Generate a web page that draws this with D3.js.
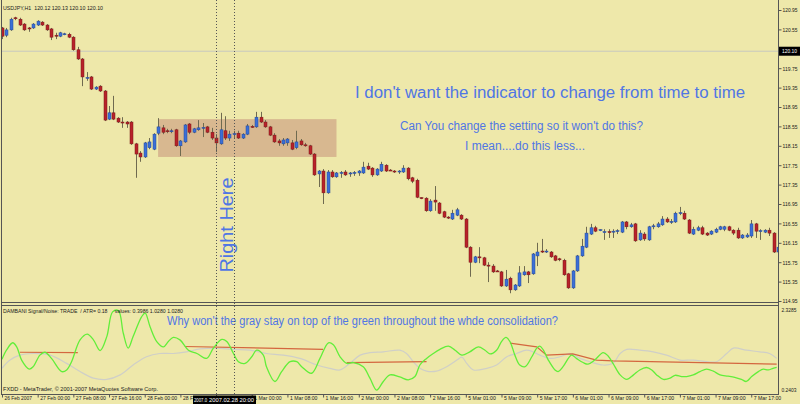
<!DOCTYPE html>
<html><head><meta charset="utf-8">
<script src="https://cdn.jsdelivr.net/npm/d3@7"></script>
<style>body{margin:0;background:#eee8aa;} svg{display:block;}</style>
</head><body><svg id="c" width="800" height="404"></svg>
<script>
// ---------- data ----------
const headerText = "USDJPY,H1  120.12 120.13 120.10 120.10";
const indicatorText = "DAMBANI Signal/Noise: TRADE  / ATR= 0.18     values: 0.3986 1.0280 1.0280";
const footerText = "FXDD - MetaTrader, \u00a9 2001-2007 MetaQuotes Software Corp.";

const open = [120.58,120.43,120.54,120.79,120.76,120.66,120.58,120.58,120.64,120.70,
120.64,120.56,120.43,120.41,120.45,120.45,120.39,120.13,119.94,119.55,
119.57,119.32,119.38,119.28,118.70,118.83,118.72,118.64,118.64,118.64,
118.19,118.00,117.92,118.11,118.08,118.41,118.52,118.46,118.45,118.48,
118.15,118.23,118.60,118.43,118.48,118.52,118.54,118.43,118.31,118.19,
118.46,118.31,118.39,118.41,118.31,118.39,118.55,118.54,118.74,118.64,
118.54,118.37,118.25,118.19,118.21,118.21,118.11,118.25,118.17,118.15,
117.98,117.57,117.63,117.18,117.61,117.51,117.59,117.61,117.58,117.59,
117.59,117.59,117.73,117.69,117.55,117.63,117.75,117.65,117.63,117.62,
117.61,117.69,117.49,117.44,117.08,117.07,116.81,117.03,116.97,116.79,
116.68,116.64,116.72,116.72,116.64,116.06,115.75,115.86,115.84,115.69,
115.67,115.57,115.55,115.26,115.42,115.18,115.26,115.49,115.55,115.51,
115.88,115.98,115.97,115.96,115.88,115.82,115.79,115.51,115.22,115.57,
115.88,116.06,116.33,116.46,116.41,116.37,116.38,116.37,116.39,116.37,
116.58,116.48,116.54,116.21,116.33,116.21,116.48,116.48,116.52,116.64,
116.58,116.58,116.76,116.76,116.62,116.33,116.41,116.46,116.35,116.33,
116.37,116.43,116.43,116.48,116.41,116.41,116.25,116.27,116.29,116.54,
116.39,116.37,116.41,116.35,115.96];
const high = [120.60,120.58,120.79,120.81,120.79,120.68,120.60,120.68,120.74,120.72,
120.66,120.58,120.48,120.50,120.48,120.48,120.41,120.19,119.96,119.67,
119.59,119.38,119.40,119.30,118.97,119.18,118.74,118.74,118.66,118.66,
118.21,118.04,118.23,118.31,118.41,118.72,118.58,118.50,118.50,118.50,
118.27,118.60,118.62,118.52,118.68,118.62,118.56,118.52,118.39,118.83,
118.76,118.46,118.46,118.46,118.41,118.60,118.58,118.85,118.85,118.68,
118.56,118.41,118.29,118.31,118.31,118.27,118.46,118.29,118.21,118.17,
118.00,117.65,117.67,117.65,117.65,117.61,117.63,117.65,117.61,117.63,
117.65,117.82,117.80,117.71,117.69,117.82,117.77,117.67,117.65,117.65,
117.75,117.71,117.51,117.47,117.09,117.09,117.05,117.32,116.99,116.81,
116.70,116.83,116.87,116.74,116.66,116.08,115.88,116.06,115.86,115.75,
115.71,115.59,115.57,115.59,115.45,115.30,115.67,115.67,115.57,115.94,
116.15,116.23,116.02,115.98,115.90,115.84,115.82,115.53,115.59,115.90,
116.23,116.48,116.54,116.50,116.43,116.43,116.43,116.43,116.43,116.60,
116.60,116.56,116.56,116.41,116.37,116.50,116.54,116.58,116.70,116.68,
116.64,116.79,116.89,116.81,116.64,116.48,116.50,116.50,116.37,116.41,
116.46,116.50,116.50,116.50,116.43,116.46,116.33,116.35,116.62,116.56,
116.43,116.43,116.46,116.37,116.08];
const low = [120.35,120.39,120.52,120.74,120.62,120.52,120.50,120.56,120.62,120.62,
120.52,120.33,120.35,120.39,120.43,120.37,120.11,119.92,119.38,119.49,
119.30,119.30,119.26,118.66,118.68,118.68,118.62,118.52,118.52,118.17,
117.49,117.82,117.90,118.08,118.06,118.37,118.39,118.41,118.41,118.13,
117.94,118.21,118.39,118.41,118.46,118.33,118.41,118.27,118.02,118.17,
118.27,118.25,118.29,118.29,118.29,118.37,118.52,118.52,118.62,118.52,
118.35,118.21,118.15,118.15,118.15,118.06,118.08,118.15,118.13,117.96,
117.53,117.30,116.95,117.16,117.49,117.49,117.49,117.53,117.51,117.53,
117.53,117.57,117.65,117.51,117.53,117.61,117.61,117.63,117.59,117.57,
117.59,117.44,117.38,117.07,117.05,116.79,116.79,116.81,116.74,116.66,
116.64,116.62,116.70,116.62,116.04,115.45,115.73,115.73,115.67,115.34,
115.53,115.55,115.24,115.24,115.11,115.16,115.24,115.47,115.32,115.49,
115.67,115.94,115.94,115.84,115.77,115.77,115.47,115.20,115.20,115.55,
115.86,116.04,116.31,116.37,116.39,116.21,116.25,116.25,116.33,116.35,
116.43,116.46,116.17,116.19,116.19,116.19,116.43,116.46,116.50,116.56,
116.54,116.56,116.72,116.62,116.33,116.31,116.39,116.31,116.29,116.31,
116.35,116.41,116.39,116.39,116.31,116.23,116.23,116.25,116.25,116.25,
116.21,116.35,116.29,115.94,115.94];
const close = [120.41,120.54,120.76,120.78,120.64,120.54,120.57,120.66,120.72,120.64,
120.54,120.39,120.42,120.48,120.46,120.39,120.13,119.94,119.57,119.56,
119.32,119.36,119.28,118.68,118.83,118.70,118.64,118.63,118.60,118.19,
117.98,117.92,118.21,118.23,118.39,118.54,118.43,118.45,118.46,118.15,
118.25,118.58,118.43,118.50,118.52,118.53,118.43,118.31,118.21,118.48,
118.31,118.39,118.40,118.31,118.39,118.56,118.54,118.74,118.64,118.54,
118.37,118.23,118.21,118.27,118.29,118.08,118.23,118.17,118.16,117.98,
117.55,117.63,117.18,117.61,117.51,117.59,117.60,117.55,117.59,117.60,
117.63,117.71,117.67,117.55,117.67,117.77,117.63,117.64,117.62,117.63,
117.69,117.47,117.42,117.09,117.07,116.81,117.01,116.99,116.76,116.68,
116.67,116.76,116.83,116.64,116.06,115.75,115.86,115.85,115.69,115.68,
115.55,115.56,115.26,115.40,115.18,115.28,115.53,115.55,115.49,115.92,
115.96,115.97,115.98,115.86,115.79,115.81,115.49,115.22,115.57,115.88,
116.08,116.35,116.46,116.39,116.42,116.38,116.37,116.39,116.40,116.58,
116.48,116.52,116.19,116.35,116.23,116.48,116.50,116.54,116.64,116.58,
116.59,116.76,116.77,116.64,116.35,116.43,116.46,116.33,116.31,116.39,
116.43,116.48,116.48,116.41,116.35,116.25,116.31,116.31,116.54,116.39,
116.40,116.41,116.35,115.96,116.06];

const priceTicks = [120.95,120.55,120.15,119.75,119.35,118.95,118.55,118.15,117.75,117.35,116.95,116.55,116.15,115.75,115.35,114.95];
const bidPrice = 120.10;
const timeTickIdx = [0,8,16,24,32,40,48,56,64,72,80,88,96,104,112,120,128,136,144,152,160,168];
const timeTickLabels = ["26 Feb 2007","27 Feb 00:00","27 Feb 08:00","27 Feb 16:00","28 Feb 00:00","28 Feb 08:00","28 Feb 16:00",
  "1 Mar 00:00","1 Mar 08:00","1 Mar 16:00","2 Mar 00:00","2 Mar 08:00","2 Mar 16:00","5 Mar 01:00","5 Mar 09:00","5 Mar 17:00",
  "6 Mar 01:00","6 Mar 09:00","6 Mar 17:00","7 Mar 01:00","7 Mar 09:00","7 Mar 17:00"];
const cursorLabels = ["2007.0", "2007.02.28 20:00"];
const markIdx = [48, 52];
const zoneIdx = [35, 75];
const zonePrice = [118.70, 117.92];
const indRange = [0.2403, 2.3285];

const greenIdx = [0,1,2.4,3.3,4.4,6.1,7,8.5,9.6,11.1,13.4,14.5,15.6,17.5,19.1,20.5,22,23.5,24.8,26.1,27.2,28.3,29.4,31.3,32.1,33.2,34.7,36.2,37.3,38.4,39.9,41.8,43.7,45.9,47.4,49.3,50.4,51.9,53,54.5,56,57.1,58.6,59.3,61.2,62.7,64.6,66.1,67.2,69.4,71.3,73.2,74.3,75.8,77.3,78.8,81,82.5,84,85.5,87,89.2,91.1,92.6,93.7,95.2,96.7,98.2,100.1,101.6,103.1,104.9,106.8,108.3,109.4,110.9,112,113,113.9,115,116.1,117.3,118.8,119.9,120.6,121.4,122.5,124,124.7,125.8,127.7,128.8,130.3,131.4,132.9,134.8,135.9,137,138.6,140.1,141.6,143,144.5,145.7,146.8,148.3,149.8,150.9,152.4,153.5,155,156.5,158,159.5,161,162.8,164.3,165.8,166.9,168.1,169.6,170.7,171.8,172.9,173.7];
const greenVal = [1.06,1.28,1.46,1.36,1.04,0.82,0.88,1.16,1.23,1.08,0.76,0.80,1.00,1.53,1.67,1.53,1.27,1.61,2.21,2.24,1.69,1.33,1.61,2.09,2.18,1.85,1.49,1.36,1.49,1.59,1.53,1.28,1.20,1.08,1.33,1.54,1.49,1.20,1.00,0.96,1.12,1.28,1.16,0.88,0.52,0.76,1.00,1.00,0.88,0.72,1.08,1.46,1.41,1.12,0.96,0.98,0.88,0.60,0.31,0.52,0.68,0.63,0.56,0.64,0.92,1.08,1.20,1.30,1.38,1.28,1.16,1.24,1.36,1.28,1.19,1.28,1.49,1.59,1.49,1.16,0.92,0.88,1.12,1.33,1.38,1.28,1.04,0.80,0.76,0.88,1.16,1.08,0.98,0.94,1.04,1.22,1.14,0.96,0.68,0.57,0.68,0.80,0.86,0.80,0.68,0.57,0.60,0.67,0.64,0.64,0.68,0.76,0.82,0.77,0.68,0.65,0.62,0.57,0.52,0.64,0.76,0.82,0.80,0.84,0.86];

const grayIdx = [0,1.8,4,7,10.8,14.5,17.5,20.5,23.5,26.5,29.4,32.4,35.4,38.4,41.4,44.4,48.1,51.9,55.6,59.3,63.1,66.8,70.6,73.5,75.8,78,80.3,82.5,85.5,89.2,90.7,92.2,93.7,95.2,97.4,99.7,102,103.1,104.2,105.7,108.7,110.9,113.2,115.4,117.6,119.1,120.6,122.9,125.1,127.4,129.6,131.8,134.8,137,138.6,140.1,143,146,149,152,155,158,160.2,162.5,164,166.9,169.9,172.1,173.7];
const grayVal = [0.84,1.04,1.16,1.20,1.16,0.96,0.76,0.60,0.57,0.68,0.92,1.12,1.20,1.20,1.24,1.31,1.33,1.30,1.28,1.20,1.16,1.08,0.92,0.84,0.80,0.96,1.16,1.22,1.24,1.28,1.20,1.00,0.84,0.77,0.77,0.88,1.04,1.11,0.96,0.80,0.84,0.92,1.12,1.20,1.28,1.24,1.16,1.08,1.12,1.20,1.08,1.00,0.92,0.96,1.20,1.30,1.28,1.24,1.16,1.04,1.04,1.00,1.00,1.20,1.33,1.28,1.24,1.20,1.08];

const redIdx = [4,17,null,41,72,null,77.3,95.2,null,113.9,119.9,122.1,128,133.3,137,173.7];
const redVal = [1.23,1.22,null,1.37,1.30,null,0.98,1.00,null,1.45,1.36,1.16,1.19,1.04,1.02,0.94];

// ---------- layout ----------
const svg = d3.select("#c");
const BG = "#eee8aa";
const x = d3.scaleLinear().domain([0, 174]).range([2, 778]);
const y = d3.scaleLinear().domain([114.95, 120.95]).range([301, 10]);
const yi = d3.scaleLinear().domain(indRange).range([393, 307]);
const font = "'Liberation Sans', Arial, sans-serif";
const CW = 2.5; // approx. px per character of the small MetaTrader labels
const small = sel => sel.attr("font-family", font).attr("font-size", 6).attr("fill", "#1a1a1a")
  .attr("lengthAdjust", "spacingAndGlyphs").attr("textLength", function () { return this.textContent.length * CW; });

svg.append("rect").attr("width", 800).attr("height", 404).attr("fill", BG);

const defs = svg.append("defs");
defs.append("clipPath").attr("id", "cm").append("rect").attr("x", 2).attr("y", 0).attr("width", 776).attr("height", 302);
defs.append("clipPath").attr("id", "ci").append("rect").attr("x", 2).attr("y", 306).attr("width", 776).attr("height", 88);

const main = svg.append("g").attr("clip-path", "url(#cm)");
main.append("rect")
  .attr("x", x(zoneIdx[0])).attr("width", x(zoneIdx[1]) - x(zoneIdx[0]))
  .attr("y", y(zonePrice[0])).attr("height", y(zonePrice[1]) - y(zonePrice[0]))
  .attr("fill", "#d8b890");
main.append("line").attr("x1", 2).attr("x2", 778).attr("y1", y(bidPrice)).attr("y2", y(bidPrice))
  .attr("stroke", "#c8c8c0").attr("stroke-width", 1);

const bars = d3.range(open.length);
main.selectAll("line.w").data(bars).join("line").attr("class", "w")
  .attr("x1", i => Math.round(x(i)) + 0.5).attr("x2", i => Math.round(x(i)) + 0.5)
  .attr("y1", i => y(high[i])).attr("y2", i => y(low[i]))
  .attr("stroke", "#6f6a50").attr("stroke-width", 1);
main.selectAll("rect.b").data(bars).join("rect").attr("class", "b")
  .attr("x", i => Math.round(x(i)) - 1)
  .attr("width", 3)
  .attr("y", i => y(Math.max(open[i], close[i])))
  .attr("height", i => Math.max(1, Math.abs(y(open[i]) - y(close[i]))))
  .attr("fill", i => close[i] > open[i] ? "#3b6fd6" : (close[i] < open[i] ? "#b8222a" : "#333"))
  .attr("stroke", i => close[i] > open[i] ? "#24489a" : "#7a1a1a")
  .attr("stroke-width", 0.5);

// annotations
const blue = "#5076e4";
const ann = [
  {t: "I don't want the indicator to change from time to time", x: 355, y: 98, s: 16, w: 390},
  {t: "Can You change the setting so it won't do this?", x: 400, y: 130, s: 12.5, w: 243},
  {t: "I mean....do this less...", x: 465, y: 150, s: 12.5, w: 120}
];
svg.selectAll("text.ann").data(ann).join("text").attr("class", "ann")
  .attr("x", d => d.x).attr("y", d => d.y).text(d => d.t)
  .attr("font-family", font).attr("font-size", d => d.s)
  .attr("fill", blue).attr("textLength", d => d.w).attr("lengthAdjust", "spacingAndGlyphs");
svg.append("text").text("Right Here")
  .attr("transform", "translate(233,225) rotate(-90)")
  .attr("text-anchor", "middle").attr("font-family", font)
  .attr("font-size", 19).attr("fill", blue).attr("textLength", 95).attr("lengthAdjust", "spacingAndGlyphs");

// header
svg.append("text").attr("x", 3).attr("y", 10).text(headerText).attr("xml:space", "preserve").call(small).attr("textLength", 100);

// indicator
const ind = svg.append("g").attr("clip-path", "url(#ci)");
ind.append("path").datum(grayIdx.map((v, k) => [v, grayVal[k]]))
  .attr("d", d3.line().x(d => x(d[0])).y(d => yi(d[1])).curve(d3.curveCatmullRom))
  .attr("fill", "none").attr("stroke", "#cfcfc8").attr("stroke-width", 1.2);
ind.append("path").datum(redIdx.map((v, k) => [v, redVal[k]]))
  .attr("d", d3.line().defined(d => d[0] !== null).x(d => x(d[0])).y(d => yi(d[1])))
  .attr("fill", "none").attr("stroke", "#d4673f").attr("stroke-width", 1.2);
ind.append("path").datum(greenIdx.map((v, k) => [v, greenVal[k]]))
  .attr("d", d3.line().x(d => x(d[0])).y(d => yi(d[1])).curve(d3.curveCatmullRom))
  .attr("fill", "none").attr("stroke", "#62ee3a").attr("stroke-width", 1.3);

svg.append("text").attr("x", 3).attr("y", 313).text(indicatorText).attr("xml:space", "preserve").call(small).attr("textLength", 180);
svg.append("text").attr("x", 3).attr("y", 391).text(footerText).call(small).attr("textLength", 155);
svg.append("text").attr("x", 167).attr("y", 325)
  .text("Why won't the gray stay on top of the green throughout the whde consolidation?")
  .attr("font-family", font).attr("font-size", 12)
  .attr("fill", blue).attr("textLength", 391).attr("lengthAdjust", "spacingAndGlyphs");

// marker vertical lines
svg.selectAll("line.mk").data(markIdx).join("line").attr("class", "mk")
  .attr("x1", d => Math.round(x(d)) + 0.5).attr("x2", d => Math.round(x(d)) + 0.5)
  .attr("y1", 0).attr("y2", 396)
  .attr("stroke", "#555").attr("stroke-width", 1).attr("stroke-dasharray", "1,2");

// frames
const frame = svg.append("g").attr("stroke", "#555").attr("fill", "none");
frame.append("line").attr("x1", 1.5).attr("x2", 1.5).attr("y1", 0).attr("y2", 395);
frame.append("line").attr("x1", 778.5).attr("x2", 778.5).attr("y1", 0).attr("y2", 395);
frame.append("line").attr("x1", 1.5).attr("x2", 778.5).attr("y1", 302.5).attr("y2", 302.5);
frame.append("line").attr("x1", 1.5).attr("x2", 778.5).attr("y1", 305.5).attr("y2", 305.5);
frame.append("line").attr("x1", 1.5).attr("x2", 778.5).attr("y1", 394.5).attr("y2", 394.5);

// price axis
const pa = svg.append("g").attr("transform", "translate(778.5,0)")
  .call(d3.axisRight(y).tickValues(priceTicks).tickSize(3).tickPadding(1).tickFormat(d3.format(".2f")));
pa.select(".domain").remove();
pa.selectAll("text").call(small);
pa.selectAll("line").attr("stroke", "#555");
svg.append("rect").attr("x", 779).attr("y", y(bidPrice) - 4.5).attr("width", 21).attr("height", 9).attr("fill", "#000");
svg.append("text").attr("x", 782).attr("y", y(bidPrice) + 2).text(d3.format(".2f")(bidPrice)).call(small).attr("fill", "#fff");

// indicator axis
const ia = svg.append("g").attr("transform", "translate(778.5,0)")
  .call(d3.axisRight(yi).tickValues(indRange.slice().reverse()).tickSize(0).tickPadding(3).tickFormat(d3.format(".4f")));
ia.select(".domain").remove();
ia.selectAll("text").call(small);
ia.selectAll(".tick").attr("transform", d => `translate(0,${d === indRange[1] ? 310 : 390})`);

// time axis
const ta = svg.append("g").attr("transform", "translate(0,394.5)")
  .call(d3.axisBottom(x).tickValues(timeTickIdx).tickSize(3).tickFormat((d, k) => timeTickLabels[k]));
ta.select(".domain").remove();
ta.selectAll("line").attr("stroke", "#555");
ta.selectAll("text").attr("text-anchor", "start").attr("x", 2).attr("y", 1.5).call(small);

// crosshair time labels
svg.append("rect").attr("x", 193).attr("y", 395.5).attr("width", 63).attr("height", 8.5).attr("fill", "#000");
svg.append("text").attr("x", 194).attr("y", 402).text(cursorLabels[0]).call(small).attr("fill", "#fff").attr("textLength", 13);
svg.append("text").attr("x", 209).attr("y", 402).text(cursorLabels[1]).call(small).attr("fill", "#fff").attr("textLength", 45);
</script></body></html>
